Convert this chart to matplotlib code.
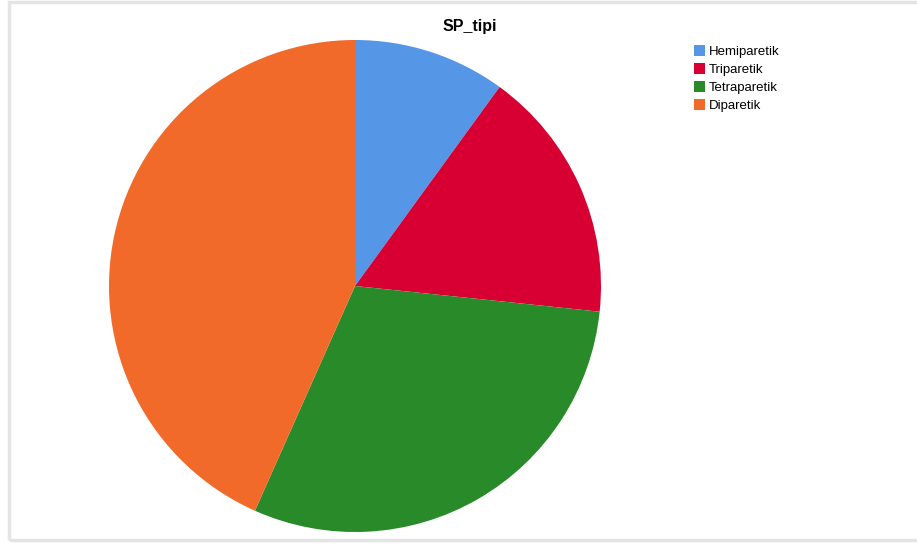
import matplotlib.pyplot as plt
from matplotlib.patches import Rectangle

plt.rcParams['font.family'] = ['Liberation Sans', 'DejaVu Sans']

# SP type counts
labels = ['Hemiparetik', 'Triparetik', 'Tetraparetik', 'Diparetik']
counts = [3, 5, 9, 13]
colors = ['#5596e6', '#d80032', '#298a2a', '#f26a2a']

W, H = 917, 544
fig = plt.figure(figsize=(W / 100, H / 100), dpi=100)

# light grey frame around the chart (runs off the right edge)
fig.patches.append(Rectangle((8.5 / W, 4 / H), 920 / W, 538.5 / H, transform=fig.transFigure,
                             fill=False, edgecolor='#e4e4e4', linewidth=2.5))

# pie centred at (355, 286) px, radius 246 px
cx, cy, r = 355, 286, 246
ax = fig.add_axes([(cx - r) / W, (H - cy - r) / H, 2 * r / W, 2 * r / H])
wedges, _ = ax.pie(counts, colors=colors, startangle=90, counterclock=False,
                   wedgeprops=dict(linewidth=0))
ax.set_xlim(-1, 1)
ax.set_ylim(-1, 1)
ax.set_aspect('auto')
ax.axis('off')

fig.text(470 / W, 1 - 27 / H, 'SP_tipi', ha='center', va='center',
         fontsize=11.5, fontweight='bold')

fig.legend(wedges, labels, loc='upper left', bbox_to_anchor=(694 / W, 1 - 45 / H),
           frameon=False, fontsize=9.5, handlelength=0.85, handleheight=0.85,
           handletextpad=0.3, labelspacing=0.4, borderpad=0, borderaxespad=0)

fig.savefig('out.png', dpi=100)
